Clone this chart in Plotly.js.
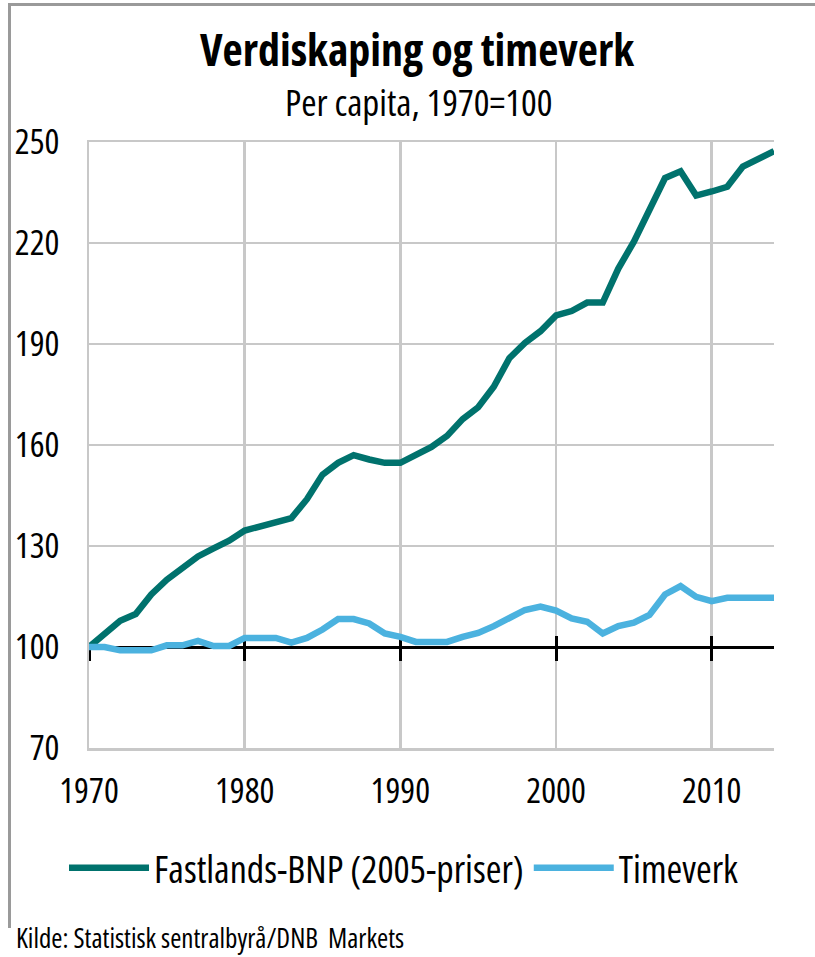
<!DOCTYPE html>
<html>
<head>
<meta charset="utf-8">
<script src="https://cdn.plot.ly/plotly-3.0.1.min.js"></script>
<style>
  html, body { margin: 0; padding: 0; background: #ffffff; }
  #chart { position: absolute; left: 0; top: 0; width: 815px; height: 957px; }
  #frame { position: absolute; left: 8px; top: 3px; width: 807px; height: 925px;
           border-left: 3px solid #9a9a9a; border-top: 3px solid #9a9a9a;
           pointer-events: none; box-sizing: border-box; }
  /* narrow look of the original (Arial Narrow-like) via condensed Open Sans;
     applied to every svg text so Plotly's own text measurements match */
  text { font-stretch: 75% !important; }
</style>
</head>
<body>
<div id="chart"></div>
<div id="frame"></div>
<script>
// ---- data ----
const years = [1970,1971,1972,1973,1974,1975,1976,1977,1978,1979,
               1980,1981,1982,1983,1984,1985,1986,1987,1988,1989,
               1990,1991,1992,1993,1994,1995,1996,1997,1998,1999,
               2000,2001,2002,2003,2004,2005,2006,2007,2008,2009,
               2010,2011,2012,2013,2014];
const fastlandsBNP = [100,104,107.8,109.8,115.6,120,123.5,126.9,129.3,131.6,
                      134.6,135.9,137.1,138.3,143.9,151.2,154.7,157,155.7,154.7,
                      154.7,157.2,159.4,162.7,167.7,171.2,177.3,185.8,190.3,193.8,
                      198.5,199.8,202.3,202.3,212.4,220.4,229.4,239.3,241.3,234.1,
                      235.3,236.7,242.7,245,247.3];
const timeverk = [100,100,99,99,99,100.5,100.5,101.8,100.3,100.3,
                  102.7,102.7,102.7,101.3,102.7,105.2,108.3,108.3,107,104,
                  103,101.5,101.5,101.5,103,104.2,106.2,108.8,111,112,
                  110.8,108.5,107.5,104,106.2,107.2,109.5,115.6,118.1,114.9,
                  113.6,114.6,114.6,114.6,114.6];
const seriesNames = ["Fastlands-BNP (2005-priser)", "Timeverk"];
const xTicks = [1970,1980,1990,2000,2010];
const yTicks = [70,100,130,160,190,220,250];
const xRange = [1970, 2014];
const yRange = [70, 250];
const baseValue = 100;

// ---- styles ----
const FONT = "Open Sans";
const teal = "#00726D";
const blue = "#4BB2DF";
const grid = "#c8c8c8";

function f(size, extra) {
  return Object.assign({ family: FONT, size: size, color: "#000" }, extra || {});
}

const traces = [
  { x: years, y: fastlandsBNP, name: seriesNames[0], type: "scatter", mode: "lines",
    line: { color: teal, width: 6.5 } },
  { x: years, y: timeverk, name: seriesNames[1], type: "scatter", mode: "lines",
    line: { color: blue, width: 6.5 } }
];

const basePos = (baseValue - yRange[0]) / (yRange[1] - yRange[0]);

const baseAxis = {
  overlaying: "x", anchor: "free", position: basePos, range: xRange,
  showgrid: false, zeroline: false, showticklabels: false,
  tickmode: "array", tickvals: xTicks, tickcolor: "#000", tickwidth: 3,
  layer: "below traces"
};

const layout = {
  width: 815, height: 957,
  paper_bgcolor: "rgba(0,0,0,0)", plot_bgcolor: "rgba(0,0,0,0)",
  margin: { l: 89, r: 41, t: 142, b: 209 },
  font: f(35),
  title: {
    text: "Verdiskaping og timeverk",
    font: f(44, { weight: "bold" }),
    x: 417 / 815, xanchor: "center", xref: "container",
    y: 1 - 51 / 957, yanchor: "middle", yref: "container"
  },
  showlegend: true,
  legend: {
    orientation: "h", xref: "paper", yref: "paper",
    x: (64 - 89) / 685, xanchor: "left", y: (748 - 868) / 606, yanchor: "middle",
    font: f(38), itemwidth: 80, tracegroupgap: 0, bgcolor: "rgba(0,0,0,0)"
  },
  xaxis: {
    range: xRange, tickmode: "array", tickvals: xTicks, ticktext: xTicks.map(String),
    showgrid: true, gridcolor: grid, gridwidth: 2.5, zeroline: false,
    showline: true, linecolor: grid, linewidth: 2.5, mirror: true,
    ticks: "", ticklabelstandoff: 10, tickfont: f(35)
  },
  xaxis2: Object.assign({}, baseAxis, { showline: true, linecolor: "#000", linewidth: 3,
                                         ticks: "outside", ticklen: 12 }),
  xaxis3: Object.assign({}, baseAxis, { showline: false, ticks: "inside", ticklen: 11 }),
  yaxis: {
    range: yRange, tickmode: "array", tickvals: yTicks, ticktext: yTicks.map(String),
    showgrid: true, gridcolor: grid, gridwidth: 2.5, zeroline: false,
    showline: true, linecolor: grid, linewidth: 2.5, mirror: false,
    ticks: "", ticklabelstandoff: 20, tickfont: f(35)
  },
  annotations: [
    {
      text: "Per capita, 1970=100",
      xref: "paper", yref: "paper",
      x: (418 - 89) / 685, xanchor: "center",
      y: 1 + (142 - 101) / 606, yanchor: "middle",
      showarrow: false, font: f(37)
    },
    {
      text: "Kilde: Statistisk sentralbyrå/DNB  Markets",
      xref: "paper", yref: "paper",
      x: (14 - 89) / 685, xanchor: "left",
      y: (748 - 937) / 606, yanchor: "middle",
      showarrow: false, font: f(27)
    }
  ]
};

// empty traces that switch on the overlay axes drawing the 1970=100 base line
traces.push({ x: xRange, y: [null, null], xaxis: "x2", yaxis: "y", showlegend: false, hoverinfo: "skip", mode: "lines" });
traces.push({ x: xRange, y: [null, null], xaxis: "x3", yaxis: "y", showlegend: false, hoverinfo: "skip", mode: "lines" });

Plotly.newPlot("chart", traces, layout, { displayModeBar: false, staticPlot: true });
</script>
</body>
</html>
